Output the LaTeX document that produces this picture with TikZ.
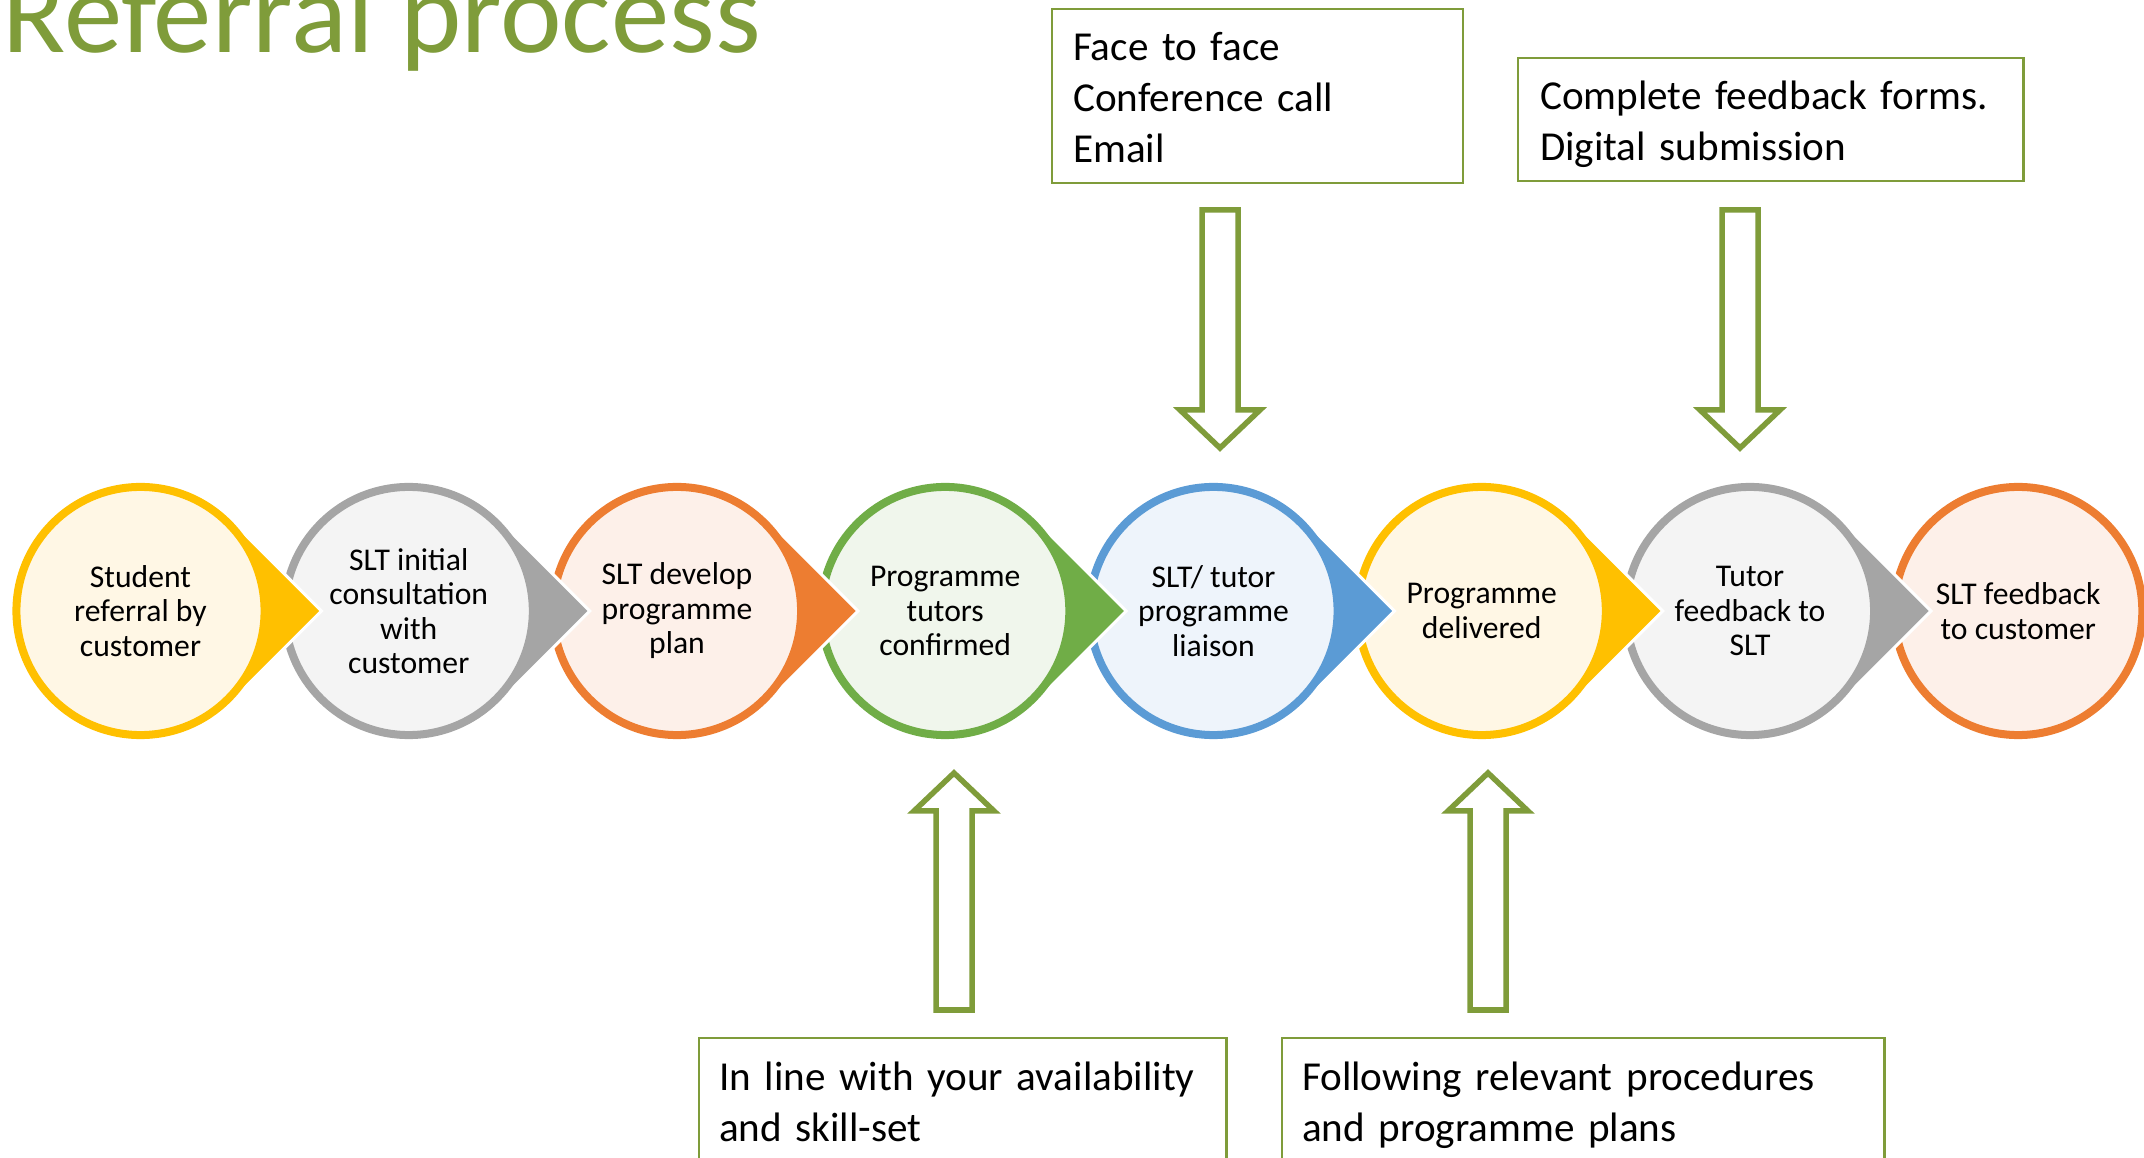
\documentclass[tikz,border=0pt]{standalone}
\usepackage{fontspec}
\setmainfont{Carlito}
\usetikzlibrary{positioning}

\definecolor{ylw}{HTML}{FFC000}
\definecolor{ylwl}{HTML}{FFF7E5}
\definecolor{gry}{HTML}{A5A5A5}
\definecolor{gryl}{HTML}{F4F4F4}
\definecolor{org}{HTML}{ED7D31}
\definecolor{orgl}{HTML}{FDF0E9}
\definecolor{grn}{HTML}{70AD47}
\definecolor{grnl}{HTML}{F0F6EC}
\definecolor{blu}{HTML}{5B9BD5}
\definecolor{blul}{HTML}{EEF4FB}
\definecolor{olive}{HTML}{7F9C3A}

\begin{document}
\begin{tikzpicture}[x=0.01cm, y=0.01cm,
  stage/.style={circle, draw=#1, fill=#1l, line width=0.08cm, minimum size=2.48cm,
    inner sep=0pt, align=center, font=\fontsize{9}{9.8}\selectfont},
  infobox/.style={draw=olive, line width=0.022cm, anchor=north west, align=left,
    inner ysep=0pt, font=\fontsize{11.7}{14.5}\selectfont,
    execute at begin node={\hyphenpenalty=10000\relax\rule[-0.07cm]{0pt}{0.44cm}},
    execute at end node={\rule[-0.07cm]{0pt}{0.44cm}}},
  hollow/.style={draw=olive, line width=0.055cm, fill=white, line join=miter}
]
  \clip (0,0) rectangle (2144,-1158);

  % title
  \node[anchor=base west, inner sep=0pt, text=olive, font=\fontsize{33.2}{38}\selectfont]
    (title) at (2,-53) {Referral process};

  % stages, drawn right to left so every tip lies over the next circle
  \foreach \i/\col/\txt in {
      8/org/{SLT feedback\\to customer},
      7/gry/{Tutor\\feedback to\\SLT},
      6/ylw/{Programme\\delivered},
      5/blu/{SLT/ tutor\\programme\\liaison},
      4/grn/{Programme\\tutors\\confirmed},
      3/org/{SLT develop\\programme\\plan},
      2/gry/{SLT initial\\consultation\\with\\customer},
      1/ylw/{Student\\referral by\\customer}} {
    \pgfmathsetmacro{\cx}{140.5+268.25*(\i-1)}
    \ifnum\i<8
      \fill[\col, draw=white, line width=0.03cm]
        (\cx+181,-611) -- (\cx+90.5,-520.5) -- (\cx+90.5,-701.5) -- cycle;
    \fi
    \node[stage=\col] (st\i) at (\cx,-611) {\txt};
  }

  % notes
  \node[infobox, minimum width=4.11cm, minimum height=1.74cm, text width=3.69cm, inner xsep=0.21cm]
    (talk) at (1051,-8) {Face to face\\Conference call\\Email};
  \node[infobox, minimum width=5.05cm, minimum height=1.23cm, text width=4.61cm, inner xsep=0.22cm]
    (forms) at (1517,-57) {Complete feedback forms.\\Digital submission};
  \node[infobox, minimum width=5.27cm, minimum height=1.25cm, text width=4.87cm, inner xsep=0.20cm]
    (skills) at (698,-1037) {In line with your availability\\and skill-set};
  \node[infobox, minimum width=6.02cm, minimum height=1.25cm, text width=5.62cm, inner xsep=0.20cm]
    (plans) at (1281,-1037) {Following relevant procedures\\and programme plans};

  % hollow arrows: x / shaft end / head base / tip
  \foreach \ax/\ya/\yb/\yc in {1220/-210/-410/-448, 1740/-210/-410/-448,
                               954/-1010/-811/-773, 1488/-1010/-811/-773}
    \draw[hollow] (\ax-18,\ya) -- (\ax-18,\yb) -- (\ax-40,\yb) -- (\ax,\yc)
      -- (\ax+40,\yb) -- (\ax+18,\yb) -- (\ax+18,\ya) -- cycle;
\end{tikzpicture}
\end{document}
